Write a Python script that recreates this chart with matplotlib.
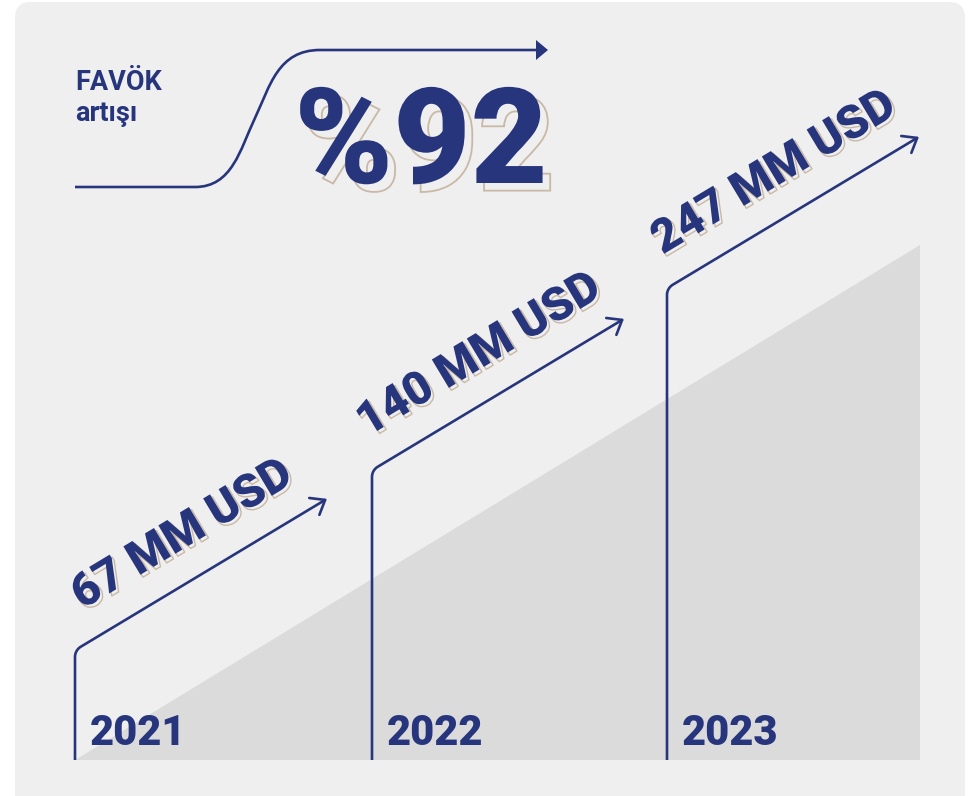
import numpy as np
import matplotlib.pyplot as plt
import matplotlib.patheffects as pe
from matplotlib.patches import FancyBboxPatch, Polygon, PathPatch
from matplotlib.path import Path

# data
years = ['2021', '2022', '2023']
ebitda = [67, 140, 247]
unit = 'MM USD'
growth = 92
title_lines = ['FAVÖK', 'artışı']

# layout (pixels)
bar_x = [75, 372, 667]
corner_y = [657, 477, 295]
base_y = 760
diag_len = 285
theta = np.radians(31)

navy = '#27357c'
beige = '#c9b8a6'

fig = plt.figure(figsize=(9.73, 7.96), dpi=100)
ax = fig.add_axes([0, 0, 1, 1])
ax.set_xlim(0, 973)
ax.set_ylim(796, 0)
ax.axis('off')

# card background
card = FancyBboxPatch((15, 2), 950, 830, boxstyle='round,pad=0,rounding_size=16',
                      fc='#efefef', ec='none')
ax.add_patch(card)
# grey triangle
ax.add_patch(Polygon([(75, base_y), (920, 245), (920, base_y)], closed=True,
                     fc='#dbdbdc', ec='none'))

# top-left title
ax.text(75, 90, title_lines[0], fontsize=19.5, color=navy, fontweight='semibold',
        family='Roboto', ha='left', va='baseline')
ax.text(75, 121, title_lines[1], fontsize=19.5, color=navy, fontweight='semibold',
        family='Roboto', ha='left', va='baseline')

# S-curve arrow
verts = [(75, 187), (195, 187),
         (232, 187), (240, 150), (255, 118),
         (270, 86), (278, 50), (320, 50),
         (538, 50)]
codes = [Path.MOVETO, Path.LINETO,
         Path.CURVE4, Path.CURVE4, Path.CURVE4,
         Path.CURVE4, Path.CURVE4, Path.CURVE4,
         Path.LINETO]
ax.add_patch(PathPatch(Path(verts, codes), fc='none', ec=navy, lw=1.9))
ax.add_patch(Polygon([(536, 40), (548, 50), (536, 60)], closed=True, fc=navy, ec='none'))

ax.text(421, 183, f'%{growth}', fontsize=96, color=navy, fontweight='black',
        family='Roboto', ha='center', va='baseline',
        path_effects=[pe.PathPatchEffect(offset=(5.5, -5.5), facecolor='none',
                                         edgecolor=beige, linewidth=1.3),
                      pe.Normal()])

# bars: vertical + rounded corner + diagonal arrow
r = 12
d = np.array([np.cos(theta), -np.sin(theta)])
n = np.array([-np.sin(theta), -np.cos(theta)])
for x0, yc, yr, val in zip(bar_x, corner_y, years, ebitda):
    phi = np.linspace(np.pi, 1.5 * np.pi - theta, 30)
    ax_ = x0 + r + r * np.cos(phi)
    ay_ = yc + r * np.sin(phi)
    e = np.array([ax_[-1], ay_[-1]])
    tip = e + diag_len * d
    xs = np.concatenate([[x0], ax_, [tip[0]]])
    ys = np.concatenate([[base_y], ay_, [tip[1]]])
    ax.plot(xs, ys, color=navy, lw=1.9, solid_capstyle='butt')
    # open arrowhead
    for s in (1, -1):
        a = theta + s * np.radians(38)
        bx = tip[0] - 16 * np.cos(a)
        by = tip[1] + 16 * np.sin(a)
        ax.plot([bx, tip[0]], [by, tip[1]], color=navy, lw=1.9, solid_capstyle='round')
    # value label
    mid = (e + tip) / 2
    c = mid + 44 * n + 2 * d
    ax.text(c[0], c[1], f'{val} {unit}', fontsize=33.5, color=navy, fontweight='black',
            family='Roboto', rotation=np.degrees(theta), rotation_mode='anchor',
            ha='center', va='center',
            path_effects=[pe.PathPatchEffect(offset=(1.8, -1.8), facecolor='none',
                                             edgecolor=beige, linewidth=1),
                          pe.Normal()])
    # year
    ax.text(x0 + 15, 745, yr, fontsize=30, color=navy, fontweight='black',
            family='Roboto', ha='left', va='baseline')

fig.savefig('out.png', dpi=100, facecolor='white')
